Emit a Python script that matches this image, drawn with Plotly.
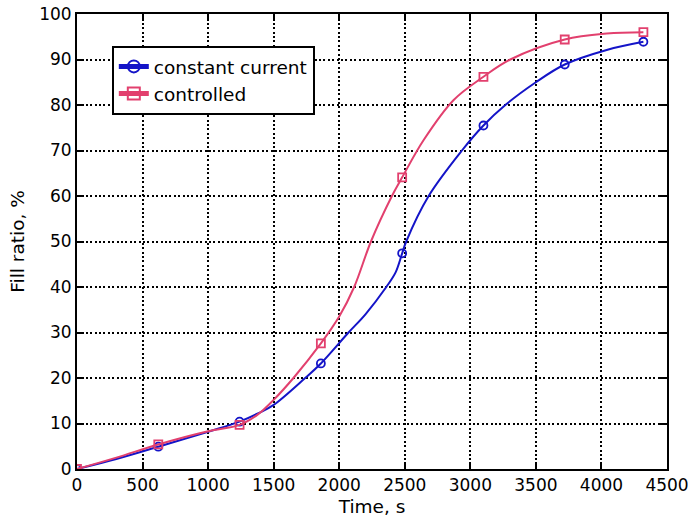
import plotly.graph_objects as go

# Sampled instants (s) where the markers sit
t_marks = [0, 620, 1240, 1860, 2480, 3100, 3720, 4320]
cc_marks = [0.0, 4.9, 10.4, 23.2, 47.4, 75.5, 88.9, 93.9]
ctrl_marks = [0.0, 5.4, 9.7, 27.6, 64.1, 86.2, 94.4, 96.0]

# Full fill-ratio curves (s, %)
cc_t = [0, 300, 620, 1000, 1240, 1380, 1500, 1740, 1860, 2071, 2200, 2359,
        2430, 2480, 2511, 2682, 2936, 3100, 3267, 3500, 3720, 4040, 4320]
cc_fill = [0.0, 2.2, 4.9, 8.2, 10.4, 12.2, 14.1, 20.0, 23.2, 30.0, 34.0, 40.0,
           43.2, 47.4, 50.0, 60.0, 70.0, 75.5, 80.0, 85.0, 88.9, 92.1, 93.9]

ctrl_t = [0, 300, 620, 1000, 1240, 1380, 1500, 1651, 1860, 2000, 2114, 2242,
          2402, 2480, 2644, 2873, 3100, 3305, 3720, 4040, 4320]
ctrl_fill = [0.0, 2.5, 5.4, 8.3, 9.7, 12.0, 15.2, 20.0, 27.6, 33.5, 40.0, 50.0,
             60.0, 64.1, 72.3, 81.1, 86.2, 90.0, 94.4, 95.7, 96.0]

x_ticks = [0, 500, 1000, 1500, 2000, 2500, 3000, 3500, 4000, 4500]
y_ticks = [0, 10, 20, 30, 40, 50, 60, 70, 80, 90, 100]

BLUE = "#1414C8"
RED = "#E2406E"
FONT = "DejaVu Sans"

series = [
    ("constant current", cc_t, cc_fill, cc_marks, BLUE, "circle-open"),
    ("controlled", ctrl_t, ctrl_fill, ctrl_marks, RED, "square-open"),
]

fig = go.Figure()
for name, t, f, marks, color, symbol in series:
    fig.add_trace(go.Scatter(
        x=t, y=f, mode="lines", showlegend=False, hoverinfo="skip",
        line=dict(color=color, width=2, shape="spline", smoothing=1.0),
    ))
    fig.add_trace(go.Scatter(
        x=t_marks, y=marks, mode="markers", showlegend=False, name=name,
        marker=dict(symbol=symbol, size=8, color=color,
                    line=dict(color=color, width=1.8)),
    ))
    # legend entry: line with the marker symbol
    fig.add_trace(go.Scatter(
        x=[None], y=[None], mode="lines+markers", name=name,
        line=dict(color=color, width=2),
        marker=dict(symbol=symbol, size=8, color=color,
                    line=dict(color=color, width=1.8)),
    ))

axis_common = dict(
    showline=True, linecolor="black", linewidth=2, mirror="ticks",
    ticks="inside", ticklen=7, tickwidth=1.5, tickcolor="black",
    showgrid=True, gridcolor="black", gridwidth=1.6, griddash="2px,2.4px",
    zeroline=False, ticklabeloverflow="allow", automargin=False,
    tickfont=dict(family=FONT, size=17, color="black"),
)

fig.update_xaxes(
    range=[0, 4500], tickvals=x_ticks, ticktext=[str(v) for v in x_ticks],
    title=dict(text="Time, s", font=dict(family=FONT, size=18.5, color="black"),
               standoff=6),
    **axis_common,
)
fig.update_yaxes(
    range=[0, 100], tickvals=y_ticks, ticktext=[str(v) for v in y_ticks],
    title=dict(text="Fill ratio, %", font=dict(family=FONT, size=18.5, color="black"),
               standoff=10),
    **axis_common,
)

fig.update_layout(
    width=688, height=528,
    margin=dict(l=77, r=21, t=14, b=59),
    paper_bgcolor="white", plot_bgcolor="white",
    font=dict(family=FONT, size=17, color="black"),
    legend=dict(
        x=0.059, y=0.93, xanchor="left", yanchor="top",
        bgcolor="white", bordercolor="black", borderwidth=2,
        font=dict(family=FONT, size=18.5, color="black"),
        tracegroupgap=0, itemsizing="constant",
    ),
)

fig.write_html("out.html")
